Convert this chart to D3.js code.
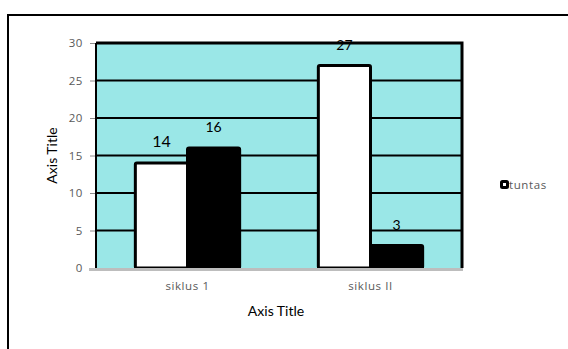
<!DOCTYPE html>
<html>
<head>
<meta charset="utf-8">
<script src="https://cdn.jsdelivr.net/npm/d3@7"></script>
<style>
  html, body { margin: 0; padding: 0; background: #ffffff; }
  svg { display: block; }
  text { font-family: Lato, "Open Sans", "Noto Sans", sans-serif; }
  .small { font-family: "Open Sans", "Noto Sans", sans-serif; font-size: 11.5px; letter-spacing: 0.6px; fill: #595959; }
</style>
</head>
<body>
<svg id="chart" width="568" height="349"></svg>
<script>
// Chart data
const categories = ["siklus 1", "siklus II"];
const seriesNames = ["tuntas", ""];
const seriesFills = ["#ffffff", "#000000"];
const valuesTuntas = [14, 27];
const valuesBelum = [16, 3];
const yTicks = [0, 5, 10, 15, 20, 25, 30];
const labelSizes = [[16, 14], [14, 14]];

const W = 568, H = 349;
const plot = { left: 96, right: 462, top: 43, bottom: 268 };

const svg = d3.select("#chart");

// Outer chart frame (runs off the right and bottom edges)
svg.append("rect")
  .attr("x", 8).attr("y", 15)
  .attr("width", W + 20).attr("height", H + 20)
  .attr("fill", "#ffffff")
  .attr("stroke", "#000000")
  .attr("stroke-width", 2);

const y = d3.scaleLinear().domain([0, 30]).range([plot.bottom, plot.top]);

const x0 = d3.scaleBand()
  .domain(categories)
  .range([plot.left, plot.right])
  .paddingInner(0.43)
  .paddingOuter(0.215);

const x1 = d3.scaleBand()
  .domain(d3.range(seriesNames.length))
  .range([0, x0.bandwidth()])
  .padding(0);

// Plot area background
svg.append("rect")
  .attr("x", plot.left).attr("y", plot.top)
  .attr("width", plot.right - plot.left)
  .attr("height", plot.bottom - plot.top)
  .attr("fill", "#9ae7e7");

// Horizontal gridlines
svg.append("g")
  .selectAll("line")
  .data(yTicks.filter(t => t > 0 && t < 30))
  .join("line")
  .attr("x1", plot.left).attr("x2", plot.right)
  .attr("y1", d => y(d)).attr("y2", d => y(d))
  .attr("stroke", "#000000")
  .attr("stroke-width", 2);

// Top and right borders of the plot area
svg.append("path")
  .attr("d", `M${plot.left},${y(30)}H${plot.right}V${plot.bottom}`)
  .attr("fill", "none")
  .attr("stroke", "#000000")
  .attr("stroke-width", 3);

// Bars
const seriesValues = [valuesTuntas, valuesBelum];
const rows = [];
categories.forEach((c, ci) => {
  seriesValues.forEach((vals, si) => {
    rows.push({ cat: c, ci, si, v: vals[ci] });
  });
});

svg.append("g")
  .selectAll("rect")
  .data(rows)
  .join("rect")
  .attr("x", d => x0(d.cat) + x1(d.si))
  .attr("y", d => y(d.v))
  .attr("width", x1.bandwidth())
  .attr("height", d => y(0) - y(d.v))
  .attr("rx", 1.5)
  .attr("fill", d => seriesFills[d.si])
  .attr("stroke", "#000000")
  .attr("stroke-width", 3);

// Left axis line
svg.append("line")
  .attr("x1", plot.left).attr("x2", plot.left)
  .attr("y1", plot.top).attr("y2", plot.bottom)
  .attr("stroke", "#000000")
  .attr("stroke-width", 2);

// Y axis ticks and labels
const yAxis = d3.axisLeft(y).tickValues(yTicks).tickSize(5).tickPadding(7);
const gy = svg.append("g")
  .attr("transform", `translate(${plot.left - 1},0)`)
  .call(yAxis);
gy.attr("font-family", null).attr("font-size", null);
gy.select(".domain").remove();
gy.selectAll(".tick line").attr("stroke", "#8c8c8c").attr("stroke-width", 1);
gy.selectAll(".tick text").attr("class", "small").attr("fill", null);

// Category axis baseline
svg.append("line")
  .attr("x1", plot.left - 7).attr("x2", plot.right + 1)
  .attr("y1", plot.bottom + 1.5).attr("y2", plot.bottom + 1.5)
  .attr("stroke", "#bdbdbd")
  .attr("stroke-width", 3);

// Category labels
const xAxis = d3.axisBottom(x0).tickSize(0).tickPadding(11);
const gx = svg.append("g")
  .attr("transform", `translate(0,${plot.bottom + 3})`)
  .call(xAxis);
gx.attr("font-family", null).attr("font-size", null);
gx.select(".domain").remove();
gx.selectAll(".tick text").attr("class", "small").attr("fill", null);

// Data labels
svg.append("g")
  .selectAll("text")
  .data(rows)
  .join("text")
  .attr("x", d => x0(d.cat) + x1(d.si) + x1.bandwidth() / 2)
  .attr("y", d => y(d.v) - 16)
  .attr("text-anchor", "middle")
  .attr("fill", "#000000")
  .style("font-size", d => labelSizes[d.ci][d.si] + "px")
  .text(d => d.v);

// Axis titles
svg.append("text")
  .attr("x", (plot.left + plot.right) / 2 - 3)
  .attr("y", 316)
  .attr("text-anchor", "middle")
  .attr("fill", "#000000")
  .style("font-size", "14px")
  .text("Axis Title");

svg.append("text")
  .attr("transform", `translate(57,${(plot.top + plot.bottom) / 2}) rotate(-90)`)
  .attr("text-anchor", "middle")
  .attr("fill", "#000000")
  .style("font-size", "14px")
  .text("Axis Title");

// Legend
const legendItems = seriesNames
  .map((name, i) => ({ name, fill: seriesFills[i] }))
  .filter(d => d.name !== "");
const lg = svg.append("g").attr("transform", "translate(500,180)");
const li = lg.selectAll("g").data(legendItems).join("g")
  .attr("transform", (d, i) => `translate(0,${i * 16})`);
li.append("rect")
  .attr("x", 1.5).attr("y", 1.5)
  .attr("width", 6).attr("height", 6)
  .attr("rx", 1)
  .attr("fill", d => d.fill)
  .attr("stroke", "#000000")
  .attr("stroke-width", 3);
li.append("text")
  .attr("class", "small")
  .attr("x", 9).attr("y", 9)
  .text(d => d.name);
</script>
</body>
</html>
